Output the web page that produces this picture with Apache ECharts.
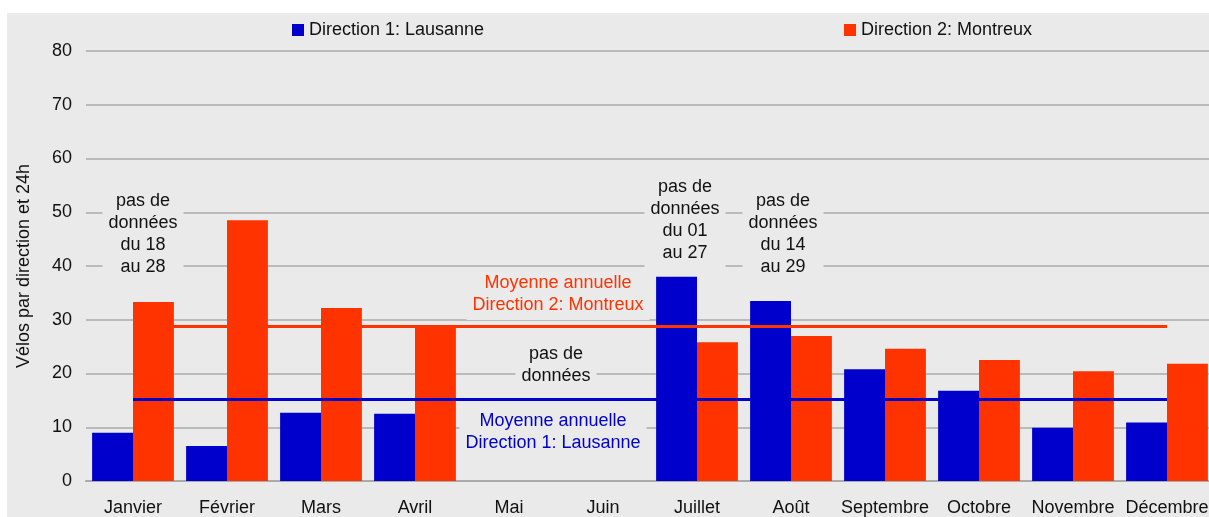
<!DOCTYPE html>
<html>
<head>
<meta charset="utf-8">
<script src="https://cdn.jsdelivr.net/npm/echarts@6/dist/echarts.min.js"></script>
<style>
  html, body { margin: 0; padding: 0; background: #fff; overflow: hidden; }
  #chart { position: absolute; left: 7px; top: 13px; width: 1215px; height: 504px; }
</style>
</head>
<body>
<div id="chart"></div>
<script>
const months = ["Janvier", "Février", "Mars", "Avril", "Mai", "Juin", "Juillet", "Août", "Septembre", "Octobre", "Novembre", "Décembre"]
const lausanne = [9.0, 6.5, 12.7, 12.5, null, null, 38.0, 33.5, 20.8, 16.8, 9.9, 10.9]
const montreux = [33.3, 48.5, 32.2, 28.7, null, null, 25.8, 27.0, 24.6, 22.5, 20.4, 21.8]
const avgLausanne = 15.3
const avgMontreux = 28.8
const yTicks = { min: 0, max: 80, interval: 10 }

const font = "Liberation Sans, Arial, sans-serif"
const blue = "#0000CC"
const red = "#FF3300"
const bg = "#EAEAEA"

// boxed text notes, same bg as the chart so they cut the grid lines
function note(text, x, y, color) {
  return {
    type: "text",
    x: x,
    y: y,
    z: 50,
    style: {
      text: text,
      fill: color || "#111",
      font: "18px " + font,
      align: "center",
      verticalAlign: "middle",
      lineHeight: 22,
      backgroundColor: bg,
      padding: [4, 6],
    },
  }
}

// annual mean drawn from first to last month centre
function avgSeries(v, color) {
  return {
    type: "line",
    data: [],
    silent: true,
    markLine: {
      silent: true,
      symbol: "none",
      label: { show: false },
      lineStyle: { color: color, width: 3, type: "solid" },
      data: [[{ coord: [months[0], v] }, { coord: [months[months.length - 1], v] }]],
    },
  }
}

let myChart = echarts.init(document.getElementById("chart"))
myChart.setOption({
  backgroundColor: bg,
  animation: false,
  textStyle: { fontFamily: font },
  grid: { left: 79, right: 8, top: 38, bottom: 36, containLabel: false },
  legend: [
    {
      data: ["Direction 1: Lausanne"],
      left: 280, top: 3,
      itemWidth: 12, itemHeight: 12, itemGap: 5, icon: "rect",
      textStyle: { fontSize: 18, color: "#111", fontFamily: font },
    },
    {
      data: ["Direction 2: Montreux"],
      left: 832, top: 3,
      itemWidth: 12, itemHeight: 12, icon: "rect",
      textStyle: { fontSize: 18, color: "#111", fontFamily: font },
    },
  ],
  xAxis: {
    type: "category",
    data: months,
    axisTick: { show: false },
    axisLine: { lineStyle: { color: "#AAAAAA", width: 2 } },
    axisLabel: { interval: 0, margin: 18, fontSize: 18, color: "#111", fontFamily: font },
  },
  yAxis: {
    type: "value",
    min: yTicks.min,
    max: yTicks.max,
    interval: yTicks.interval,
    name: "Vélos par direction et 24h",
    nameLocation: "middle",
    nameGap: 53,
    nameTextStyle: { fontSize: 18, color: "#111", fontFamily: font },
    axisLine: { show: false },
    axisTick: { show: false },
    axisLabel: { margin: 14, fontSize: 18, color: "#111", fontFamily: font },
    splitLine: { lineStyle: { color: "#AAAAAA", width: 1.5 } },
  },
  series: [
    {
      name: "Direction 1: Lausanne",
      type: "bar",
      data: lausanne,
      barGap: "0%",
      barCategoryGap: "13%",
      itemStyle: { color: blue },
    },
    {
      name: "Direction 2: Montreux",
      type: "bar",
      data: montreux,
      barGap: "0%",
      barCategoryGap: "13%",
      itemStyle: { color: red },
    },
    avgSeries(avgMontreux, red),
    avgSeries(avgLausanne, blue),
  ],
  graphic: [
    note("pas de\ndonnées\ndu 18\nau 28", 136, 221),
    note("pas de\ndonnées\ndu 01\nau 27", 678, 207),
    note("pas de\ndonnées\ndu 14\nau 29", 776, 221),
    note("pas de\ndonnées", 549, 352),
    note("Moyenne annuelle\nDirection 2: Montreux", 551, 281, red),
    note("Moyenne annuelle\nDirection 1: Lausanne", 546, 419, blue),
  ],
})
</script>
</body>
</html>
